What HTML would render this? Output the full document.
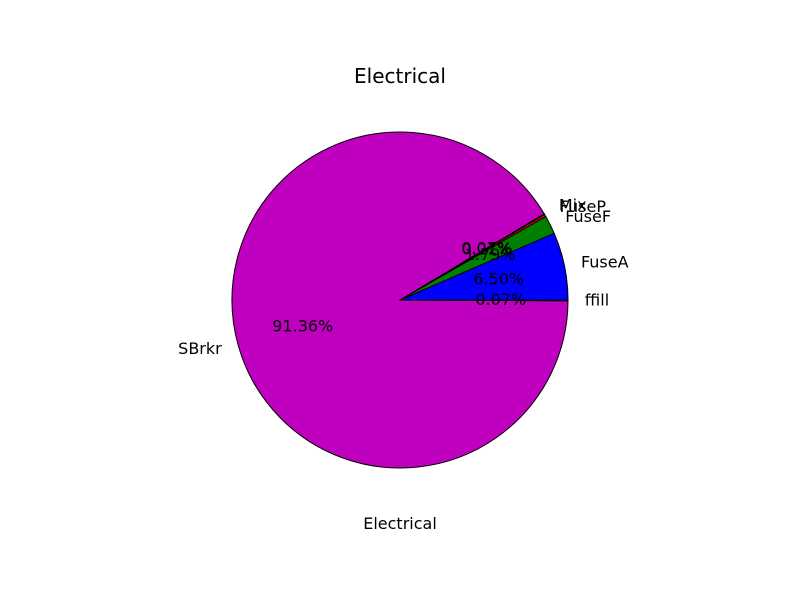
<!DOCTYPE html>
<html><head><meta charset="utf-8"><style>
body{margin:0;background:#fff}
svg{display:block;font-family:"DejaVu Sans","Liberation Sans",sans-serif}
</style></head><body>
<svg id="chart" width="800" height="600" viewBox="0 0 800 600">
<rect width="800" height="600" fill="#fff"/>
<text x="400" y="83" text-anchor="middle" font-size="20">Electrical</text>
<text x="400" y="529" text-anchor="middle" font-size="16">Electrical</text>
<g id="slices"></g>
<g id="labels"></g>
</svg>
<script>
const categories = ["FuseA","FuseF","FuseP","Mix","SBrkr","ffill"];
const values = [6.50, 1.79, 0.21, 0.07, 91.36, 0.07];
const colors = ["#0000ff","#008000","#ff0000","#00bfbf","#bf00bf","#bfbf00"];
const cx=400, cy=300, R=168;
const ns="http://www.w3.org/2000/svg";
const total=values.reduce((a,b)=>a+b,0);
const gs=document.getElementById('slices'), gl=document.getElementById('labels');
function pt(a,r){return [cx+r*Math.cos(a), cy-r*Math.sin(a)];}
let start=0;
values.forEach((v,i)=>{
  const sweep=v/total*2*Math.PI, end=start+sweep;
  const p1=pt(start,R), p2=pt(end,R);
  const large=sweep>Math.PI?1:0;
  const path=document.createElementNS(ns,'path');
  path.setAttribute('d',`M${cx},${cy} L${p1[0]},${p1[1]} A${R},${R} 0 ${large} 0 ${p2[0]},${p2[1]} Z`);
  path.setAttribute('fill',colors[i]);
  path.setAttribute('stroke','#000');
  path.setAttribute('stroke-width','1');
  
  
  gs.appendChild(path);
  const mid=(start+end)/2;
  const lp=pt(mid,R*1.1);
  const t=document.createElementNS(ns,'text');
  t.setAttribute('x',lp[0]); t.setAttribute('y',lp[1]+5);
  t.setAttribute('font-size','16');
  t.setAttribute('text-anchor',Math.cos(mid)>=0?'start':'end');
  t.textContent=categories[i];
  
  
  gl.appendChild(t);
  const pp=pt(mid,R*0.6);
  const p=document.createElementNS(ns,'text');
  p.setAttribute('x',pp[0]); p.setAttribute('y',pp[1]+5);
  p.setAttribute('font-size','16');
  p.setAttribute('text-anchor','middle');
  p.textContent=v.toFixed(2)+'%';
  
  
  gl.appendChild(p);
  start=end;
});
</script>
</body></html>
